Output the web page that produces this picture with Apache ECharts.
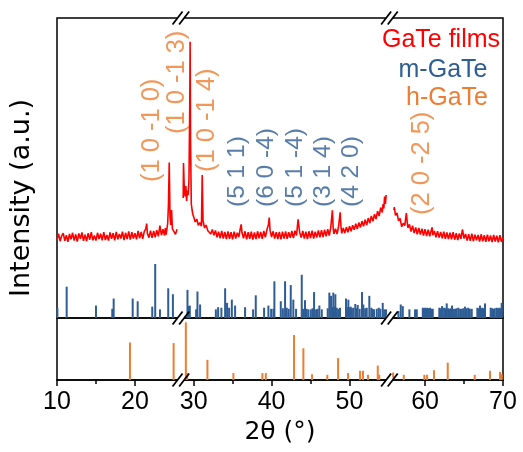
<!DOCTYPE html>
<html><head><meta charset="utf-8">
<script src="https://cdn.jsdelivr.net/npm/echarts@6/dist/echarts.min.js"></script>
<style>html,body{margin:0;padding:0;background:#fff}#c{width:523px;height:452px}</style>
</head><body><div id="c"></div>
<script>
// ---------- data ----------
const seriesNames = ['GaTe films', 'm-GaTe', 'h-GaTe'];
const xTickLabels = [10, 20, 30, 40, 50, 60, 70];
const xMinorTicks = [15, 35, 45, 65];
const axisBreaks = [{start: 25.6, end: 28.65, gap: 0.58}, {start: 54.8, end: 55.75, gap: 0.64}];

// GaTe film pattern (2θ, intensity a.u.), one list per unbroken part
const filmPart1 = [[10.0,26.0],[10.2,28.1],[10.4,25.6],[10.6,27.4],[10.8,28.3],[11.0,25.7],[11.2,27.6],[11.4,25.4],[11.6,28.0],[11.8,26.2],[12.0,28.4],[12.2,25.8],[12.4,27.9],[12.6,25.5],[12.8,28.2],[13.0,26.4],[13.2,28.5],[13.4,25.7],[13.6,27.8],[13.8,25.6],[14.0,28.3],[14.2,26.1],[14.4,28.6],[14.6,25.9],[14.8,27.5],[15.0,25.8],[15.2,28.4],[15.4,26.3],[15.6,28.1],[15.8,25.9],[16.0,28.6],[16.2,26.0],[16.4,27.7],[16.6,25.8],[16.8,28.5],[17.0,26.4],[17.2,28.3],[17.4,25.9],[17.6,28.7],[17.8,26.2],[18.0,28.0],[18.2,26.5],[18.4,28.8],[18.6,26.0],[18.8,28.4],[19.0,26.3],[19.2,28.9],[19.4,26.1],[19.6,28.6],[19.8,26.5],[20.0,28.3],[20.2,26.2],[20.4,29.0],[20.6,26.6],[20.8,28.7],[21.0,26.4],[21.2,28.9],[21.4,29.8],[21.5,31.5],[21.6,28.2],[21.8,26.8],[22.0,29.1],[22.2,26.7],[22.4,29.0],[22.6,26.9],[22.8,29.3],[23.0,27.2],[23.2,30.8],[23.4,27.6],[23.6,29.6],[23.8,27.5],[23.9,30.0],[24.0,27.8],[24.2,31.5],[24.3,38.0],[24.4,51.8],[24.5,33.5],[24.6,31.0],[24.7,36.0],[24.8,29.8],[25.0,30.2],[25.2,27.9],[25.4,29.6]];
const filmPart2 = [[28.66,40.0],[28.7,51.7],[28.8,43.0],[28.9,40.5],[29.0,44.0],[29.1,39.0],[29.2,42.5],[29.3,41.0],[29.4,46.0],[29.5,70.0],[29.55,92.1],[29.6,60.0],[29.7,38.0],[29.8,36.0],[29.9,34.5],[30.0,33.8],[30.2,32.0],[30.4,33.0],[30.6,30.9],[30.8,31.8],[31.0,30.6],[31.1,47.7],[31.2,32.5],[31.4,30.0],[31.6,31.0],[31.8,29.2],[32.0,29.8],[32.2,28.0],[32.4,29.5],[32.6,27.6],[32.8,29.2],[33.0,26.9],[33.2,28.8],[33.4,26.6],[33.6,29.0],[33.8,26.5],[34.0,28.7],[34.2,26.3],[34.4,28.9],[34.6,26.4],[34.8,28.6],[35.0,26.2],[35.2,28.8],[35.4,26.5],[35.6,28.4],[35.8,27.0],[36.0,30.0],[36.1,31.2],[36.2,28.5],[36.4,26.6],[36.6,28.9],[36.8,26.2],[37.0,28.6],[37.2,26.4],[37.4,28.8],[37.6,26.1],[37.8,28.5],[38.0,26.3],[38.2,28.9],[38.4,26.6],[38.6,28.7],[38.8,26.4],[39.0,29.0],[39.2,26.9],[39.4,29.4],[39.6,31.2],[39.7,33.5],[39.8,29.2],[40.0,27.0],[40.2,28.9],[40.4,26.5],[40.6,28.6],[40.8,26.3],[41.0,28.7],[41.2,26.2],[41.4,28.8],[41.6,26.5],[41.8,28.9],[42.0,26.4],[42.2,28.6],[42.4,26.7],[42.6,29.0],[42.8,26.6],[43.0,29.1],[43.2,27.5],[43.4,32.9],[43.6,28.6],[43.8,26.8],[44.0,29.0],[44.2,26.5],[44.4,28.8],[44.6,26.3],[44.8,28.9],[45.0,26.6],[45.2,29.1],[45.4,26.5],[45.6,28.8],[45.8,26.8],[46.0,29.2],[46.2,26.9],[46.4,29.3],[46.6,27.0],[46.8,29.4],[47.0,27.2],[47.2,29.6],[47.4,27.5],[47.6,30.4],[47.8,35.9],[47.9,30.0],[48.0,28.0],[48.2,29.8],[48.4,28.0],[48.6,30.6],[48.8,35.2],[48.9,30.5],[49.0,28.2],[49.2,30.0],[49.4,28.3],[49.6,30.3],[49.8,28.6],[50.0,30.6],[50.2,28.9],[50.4,30.9],[50.6,29.4],[50.8,31.4],[51.0,29.7],[51.2,31.8],[51.4,30.2],[51.6,32.3],[51.8,30.6],[52.0,32.8],[52.2,31.0],[52.4,33.3],[52.6,31.6],[52.8,34.0],[53.0,32.2],[53.2,34.6],[53.4,33.0],[53.6,35.6],[53.8,34.0],[54.0,36.8],[54.2,35.2],[54.3,38.0],[54.4,36.5],[54.5,40.5],[54.6,38.0],[54.7,41.0]];
const filmPart3 = [[56.0,36.0],[56.06,37.0],[56.2,34.2],[56.4,35.0],[56.6,32.4],[56.8,33.2],[57.0,30.4],[57.2,31.6],[57.4,30.8],[57.6,35.0],[57.7,32.2],[57.8,30.0],[58.0,31.2],[58.2,28.8],[58.4,30.8],[58.6,28.3],[58.8,30.2],[59.0,27.9],[59.2,30.0],[59.4,27.8],[59.6,29.8],[59.8,27.5],[60.0,29.6],[60.2,27.3],[60.4,29.4],[60.6,27.2],[60.8,29.3],[60.9,30.2],[61.0,27.6],[61.2,29.0],[61.4,26.9],[61.6,28.9],[61.8,26.8],[62.0,28.7],[62.2,26.6],[62.4,28.8],[62.6,26.4],[62.8,28.5],[63.0,26.3],[63.2,28.4],[63.4,26.2],[63.6,28.6],[63.8,26.1],[64.0,28.3],[64.2,26.0],[64.4,28.2],[64.6,26.4],[64.8,29.5],[65.0,26.5],[65.2,28.0],[65.4,25.8],[65.6,27.9],[65.8,25.7],[66.0,28.1],[66.2,25.6],[66.4,27.8],[66.6,25.9],[66.8,27.7],[67.0,25.5],[67.2,27.9],[67.4,25.6],[67.6,27.6],[67.8,25.4],[68.0,27.8],[68.2,25.6],[68.4,27.5],[68.6,25.3],[68.8,27.7],[69.0,25.5],[69.2,27.4],[69.4,25.2],[69.6,27.6],[69.8,25.4],[70.0,26.8]];

// m-GaTe reference pattern
const mAngles = [10.05,11.24,15.0,17.09,17.27,19.71,20.35,22.22,22.6,23.21,24.27,24.87,
 29.21,29.38,29.51,30.32,30.49,30.83,32.85,33.14,33.56,34.04,34.29,34.55,34.9,35.32,36.6,37.63,37.97,39.04,39.59,39.94,40.23,40.36,41.18,41.45,41.73,41.95,42.2,42.46,42.79,43.14,43.87,44.05,44.29,44.5,44.72,45.03,45.25,45.45,45.71,45.9,46.13,46.44,47.2,47.41,47.63,47.78,47.92,48.05,48.18,48.36,48.55,48.78,49.55,49.7,49.85,50.0,50.15,50.3,50.49,50.74,50.9,51.05,51.3,51.6,51.77,52.0,52.21,52.54,52.79,52.95,53.14,53.49,53.74,53.95,54.26,54.45,54.68,
 56.58,56.88,57.14,57.99,58.72,58.94,59.71,59.85,60.0,60.15,60.29,60.45,60.64,60.8,60.99,61.83,62.0,62.18,62.44,62.6,62.78,62.95,63.12,63.3,63.46,63.65,63.85,64.05,64.27,64.5,64.71,64.9,65.13,65.35,65.55,65.75,65.99,66.71,66.85,67.05,67.2,67.35,67.5,67.69,68.42,68.6,68.76,68.95,69.19,69.35,69.53,69.7,69.83];
const mIntensity = [19,58,23,17,36,36,31,21,100,16,55,44,
 52,22,23,16,49,25,16,20,19,55,28,19,34,23,20,16,42,19,23,17,17,68,31,18,68,19,17,61,34,17,80,17,33,17,16,16,18,48,16,17,23,16,18,47,41,20,47,21,44,19,17,19,36,20,34,20,21,18,19,26,18,24,17,48,25,18,19,41,19,17,16,17,19,17,28,16,16,
 13,25,22,16,16,16,19,18,19,18,19,18,19,17,17,19,18,22,19,18,27,18,17,18,23,17,17,18,19,17,17,18,21,18,19,17,17,19,18,23,18,19,18,27,19,18,17,18,19,18,19,18,28];

// h-GaTe reference pattern
const hAngles = [19.36,24.96,29.0,29.17,31.77,35.1,38.82,39.26,42.88,44.08,45.19,47.15,48.53,49.81,51.35,51.73,52.37,53.62,53.82,55.9,57.27,59.91,60.26,61.15,62.91,66.37,68.33,69.62,69.83];
const hIntensity = [65,64,100,12,35,12,12,12,78,55,10,9,38,12,16,16,9,25,9,13,9,9,9,17,30,9,16,14,10];

// peak indices (hkl) and where they are written
const hPeakNames = ['(1 0 -1 0)', '(1 0 -1 3)', '(1 0 -1 4)', '(2 0 -2 5)'];
const hPeakAngles = [22.14, 25.35, 31.69, 59.58];
const hPeakLevels = [45.3, 61.3, 48.7, 34.3];
const mPeakNames = ['(5 1 1)', '(6 0 -4)', '(5 1 -4)', '(3 1 4)', '(4 2 0)'];
const mPeakAngles = [35.54, 39.38, 43.01, 46.64, 50.28];
const mPeakLevels = [37, 37, 37, 37, 37];

// ---------- chart ----------
const RED = '#ff0000', BLUE = '#2e5c95', ORANGE = '#ed7d31';
const FONT = '"Liberation Sans", Arial, sans-serif';
const WFONT = '"DejaVu Sans", sans-serif';
const G = {left: 57, width: 446, top: 18, mid: 318, bottom: 380};

const chart = echarts.init(document.getElementById('c'), null, {renderer: 'canvas'});

function xAxis(i, opts) {
  return Object.assign({
    type: 'value', gridIndex: i, min: 10, max: 70, position: 'bottom',
    breaks: axisBreaks.map(b => ({start: b.start, end: b.end, gap: b.gap})),
    breakArea: {show: false},
    axisLine: {show: false},
    axisTick: {show: false},
    axisLabel: {show: false},
    splitLine: {show: false}
  }, opts);
}

const filmData = filmPart1.concat([[27, null]], filmPart2, [[55.3, null]], filmPart3);

const labelSeries = (names, angles, levels, color, size) => ({
  type: 'scatter', xAxisIndex: 0, yAxisIndex: 0, symbolSize: 0, silent: true,
  data: names.map((n, i) => ({name: n, value: [angles[i], levels[i]]})),
  label: {
    show: true, formatter: p => p.name, rotate: 90, position: 'inside',
    align: 'left', verticalAlign: 'middle', color: color, fontSize: size, fontFamily: FONT
  }, z: 5
});

const gridBase = {left: G.left, width: G.width, containLabel: false, outerBoundsMode: 'none'};

chart.setOption({
  animation: false,
  backgroundColor: '#fff',
  grid: [
    Object.assign({top: G.top, height: G.mid - G.top, show: true, borderColor: '#000', borderWidth: 1.5, backgroundColor: 'transparent'}, gridBase),
    Object.assign({top: G.mid - 54, height: 54}, gridBase),
    Object.assign({top: G.mid, height: G.bottom - G.mid, show: true, borderColor: '#000', borderWidth: 1.5, backgroundColor: 'transparent'}, gridBase)
  ],
  xAxis: [
    xAxis(0, {}),
    xAxis(1, {}),
    xAxis(2, {
      axisLine: {show: true, onZero: false, lineStyle: {color: '#000', width: 1.5}},
      axisTick: {show: true, inside: false, length: 6, customValues: xTickLabels, lineStyle: {color: '#000', width: 1.5}},
      axisLabel: {show: true, customValues: xTickLabels, color: '#000', fontSize: 25, fontFamily: FONT, margin: 10},
      name: '2θ (°)', nameLocation: 'middle', nameGap: 40,
      nameTextStyle: {color: '#000', fontSize: 25, fontFamily: WFONT}
    }),
    xAxis(2, {
      axisTick: {show: true, inside: false, length: 4, customValues: xMinorTicks, lineStyle: {color: '#000', width: 1.5}}
    })
  ],
  yAxis: [
    {type: 'value', gridIndex: 0, min: 0, max: 100, show: false, splitLine: {show: false}},
    {type: 'value', gridIndex: 1, min: 0, max: 100, show: false, splitLine: {show: false}},
    {type: 'value', gridIndex: 2, min: 0, max: 107.5, show: false, splitLine: {show: false}}
  ],
  series: [
    {name: seriesNames[0], type: 'line', xAxisIndex: 0, yAxisIndex: 0, data: filmData,
     showSymbol: false, symbol: 'none', connectNulls: false,
     lineStyle: {color: RED, width: 1.6}},
    {name: seriesNames[1], type: 'bar', xAxisIndex: 1, yAxisIndex: 1, barWidth: 2,
     data: mAngles.map((a, i) => [a, mIntensity[i]]), itemStyle: {color: BLUE}},
    {name: seriesNames[2], type: 'bar', xAxisIndex: 2, yAxisIndex: 2, barWidth: 2,
     data: hAngles.map((a, i) => [a, hIntensity[i]]), itemStyle: {color: ORANGE}},
    labelSeries(hPeakNames, hPeakAngles, hPeakLevels, ORANGE, 25.5),
    labelSeries(mPeakNames, mPeakAngles, mPeakLevels, BLUE, 24.5)
  ]
});

// break marks, legend texts, y title
const gfx = [];
axisBreaks.forEach(b => {
  const p1 = chart.convertToPixel({xAxisIndex: 2}, b.start);
  const p2 = chart.convertToPixel({xAxisIndex: 2}, b.end);
  const c = (p1 + p2) / 2;
  [G.top, G.mid, G.bottom].forEach(Y => {
    gfx.push({type: 'rect', shape: {x: c - 3.3, y: Y - 2.5, width: 6.6, height: 5}, style: {fill: '#fff'}, z: 100});
    [-3.3, 3.3].forEach(d => gfx.push({type: 'line', z: 101,
      shape: {x1: c + d - 5, y1: Y + 6.5, x2: c + d + 5, y2: Y - 6.5},
      style: {stroke: '#000', lineWidth: 1.8}}));
  });
});
const legendColors = [RED, BLUE, ORANGE];
const legendPos = [[441, 40], [443, 70], [447, 98]];
seriesNames.forEach((n, i) => gfx.push({type: 'text', z: 110, x: legendPos[i][0], y: legendPos[i][1],
  style: {text: n, fill: legendColors[i], font: '25px ' + FONT, textAlign: 'center', textVerticalAlign: 'middle'}}));
gfx.push({type: 'text', z: 110, x: 22, y: 198, rotation: Math.PI / 2,
  style: {text: 'Intensity (a.u.)', fill: '#000', font: '27px ' + WFONT, textAlign: 'center', textVerticalAlign: 'middle'}});
chart.setOption({graphic: gfx});
</script></body></html>
